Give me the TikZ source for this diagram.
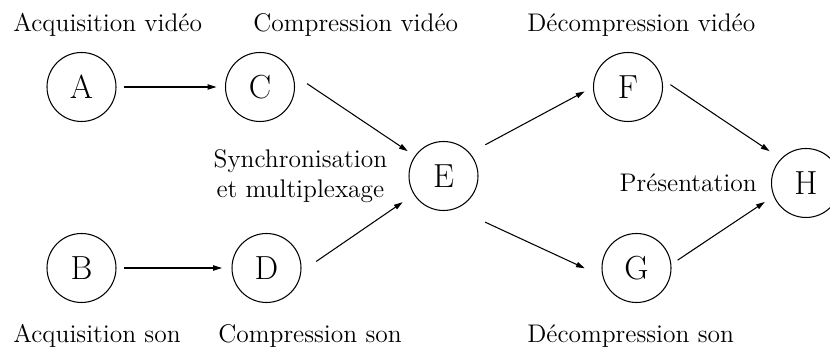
\documentclass[tikz,border=0pt]{standalone}
\usetikzlibrary{arrows.meta,positioning}
\tikzset{
  st/.style={draw,circle,on grid,line width=0.6pt,minimum size=1.38cm,
             inner sep=0pt,font=\fontsize{19}{23}\selectfont},
  lbl/.style={font=\fontsize{14.5}{17}\selectfont,inner sep=0pt},
  arr/.style={-{Triangle[length=5pt,width=3pt]},line width=0.6pt},
}

\begin{document}
\begin{tikzpicture}
  \useasboundingbox (0,0) rectangle (16.6,7.08);

  % stations
  \node[st] (A) at (1.63,5.34) {A};
  \node[st,right=3.57 of A] (C) {C};
  \node[st,below=3.62 of A] (B) {B};
  \node[st,right=3.70 of B] (D) {D};
  \node[st] (E) at (8.87,3.56) {E};
  \node[st,right=7.36 of C] (F) {F};
  \node[st,right=7.40 of D] (G) {G};
  \node[st,below right=0.14 and 7.25 of E] (H) {H};

  % titles
  \node[lbl,anchor=base west] (acqv)    at (0.26,6.44)  {Acquisition vidéo};
  \node[lbl,anchor=base west] (compv)   at (5.06,6.44)  {Compression vidéo};
  \node[lbl,anchor=base west] (decompv) at (10.54,6.44) {Décompression vidéo};
  \node[lbl,anchor=base west] (acqs)    at (0.26,0.22)  {Acquisition son};
  \node[lbl,anchor=base west] (comps)   at (4.36,0.22)  {Compression son};
  \node[lbl,anchor=base west] (decomps) at (10.54,0.22) {Décompression son};
  \node[lbl,align=center,left=0.42 of E] (sync) {Synchronisation\\et multiplexage};
  \node[lbl,left=0.28 of H] (pres) {Présentation};

  \draw[arr,shorten <=0.14cm,shorten >=0.17cm] (A.east) -- (C.west);
  \draw[arr,shorten <=0.15cm,shorten >=0.19cm] (B.east) -- (D.west);
  \draw[arr,shorten <=0.35cm,shorten >=0.17cm] (C.22) -- (E.145);
  \draw[arr,shorten <=0.36cm,shorten >=0.27cm] (D.-6) -- (E.212);
  \draw[arr,shorten <=0.35cm,shorten >=0.19cm] (E.41) -- (F.180);
  \draw[arr,shorten <=0.64cm,shorten >=0.39cm] (E.-69) -- (G.194);
  \draw[arr,shorten <=0.20cm,shorten >=0.27cm] (F.13) -- (H.136);
  \draw[arr,shorten <=0.15cm,shorten >=0.21cm] (G.6) -- (H.202);
\end{tikzpicture}
\end{document}
